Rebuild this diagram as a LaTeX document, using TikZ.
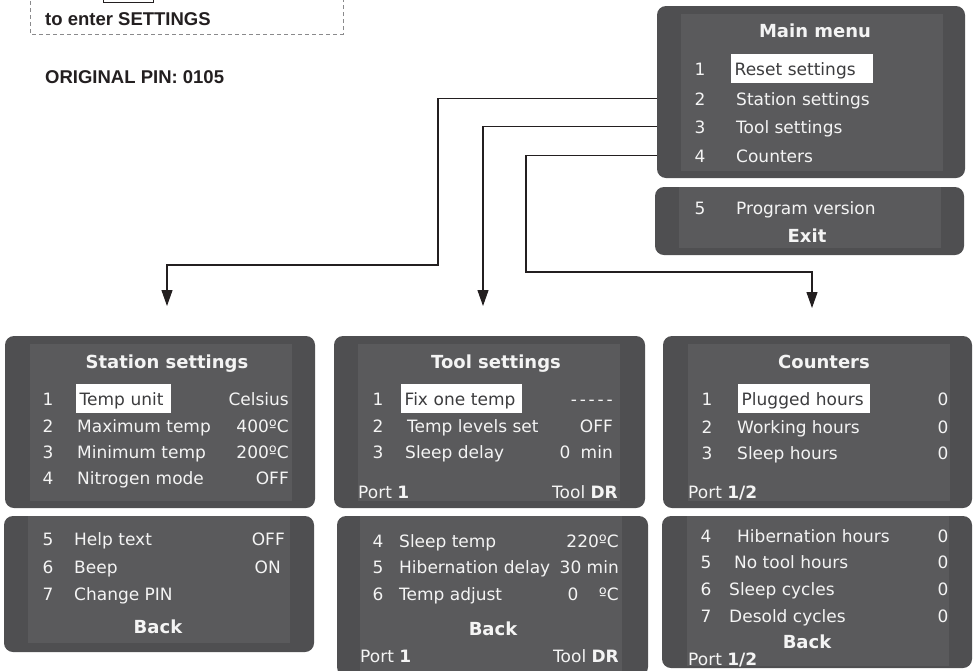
\documentclass[tikz,border=0pt]{standalone}
\usepackage{fontspec}
\setmainfont{Liberation Sans}
\newfontfamily\lcdfont{DejaVu Sans}
\usetikzlibrary{arrows.meta, positioning}
\definecolor{LcdFrame}{HTML}{4F4F51}
\definecolor{LcdPanel}{HTML}{5A5A5C}
\definecolor{LcdText}{HTML}{F4F4F4}
\definecolor{LcdInk}{HTML}{3C3C3E}
\definecolor{NoteInk}{HTML}{231F20}
\definecolor{NoteDash}{HTML}{8A8A8C}
\tikzset{
  framebox/.style={rectangle, rounded corners=9pt, fill=LcdFrame, inner sep=0pt},
  panelbox/.style={rectangle, fill=LcdPanel, inner sep=0pt},
  lcdtext/.style={font=\lcdfont\fontsize{17}{20}\selectfont, text=LcdText, inner sep=0pt, anchor=base west},
  lcdnum/.style={lcdtext, anchor=base},
  lcdval/.style={lcdtext, anchor=base east},
  lcdtitle/.style={lcdtext, anchor=base, font=\lcdfont\bfseries\fontsize{18}{21}\selectfont},
  hilite/.style={lcdtext, fill=white, text=LcdInk, inner xsep=3.5pt, text height=21pt, text depth=8pt, align=left},
  notetext/.style={font=\bfseries\fontsize{18.5}{22}\selectfont, text=NoteInk, anchor=base west, inner sep=0pt},
  link/.style={-{Triangle[length=16pt, width=11pt]}, line width=1.1pt, NoteInk}
}
\begin{document}
\begin{tikzpicture}[x=1pt, y=-1pt]
  \useasboundingbox (0,0) rectangle (973,670);

  % Hint box
  \draw[NoteDash, line width=0.8pt, dash pattern=on 4pt off 3pt] (30,-6) rectangle (343,34);
  \draw[NoteInk, line width=0.8pt] (103,-10) rectangle (153,2);
  \node[notetext] (hint) at (45,25) {to enter SETTINGS};
  \node[notetext] (pin) at (45,83) {ORIGINAL PIN: 0105};

  % Connectors
  \coordinate (st-in) at (167,306);
  \coordinate (tl-in) at (483,306);
  \coordinate (ct-in) at (812,308);
  \coordinate (st-bend) at (438,265);
  \coordinate (ct-bend) at (526,272);

  % Main menu
  \node[framebox, minimum width=308pt, minimum height=172pt] (mainA) at (811,92) {};
  \node[panelbox, minimum width=262pt, minimum height=157pt] (mainApanel) at (812,92.5) {};
  \node[lcdtitle] (mm-title) at (815,37) {Main menu};
  \node[hilite, text width=135pt] (mm-l1) at (731,75) {Reset settings};
  \foreach \i/\yy in {1/75, 2/105, 3/133, 4/162}
    \node[lcdnum] (mm-n\i) at (700,\yy) {\i};
  \foreach \i/\label/\yy in {2/Station settings/105, 3/Tool settings/133, 4/Counters/162}
    \node[lcdtext] (mm-l\i) at (736,\yy) {\label};

  \node[framebox, minimum width=309pt, minimum height=68pt] (mainB) at (809.5,221) {};
  \node[panelbox, minimum width=262pt, minimum height=61pt] (mainBpanel) at (810,217.5) {};
  \node[lcdnum] (mm-n5) at (700,214) {5};
  \node[lcdtext] (mm-l5) at (736,214) {Program version};
  \node[lcdtitle] (mm-exit) at (807,242) {Exit};

  \draw[link] (mainA.west |- mm-n2) -| (st-bend) -| (st-in);
  \draw[link] (mainA.west |- mm-n3) -| (tl-in);
  \draw[link] (mainA.west |- mm-n4) -| (ct-bend) -| (ct-in);

  % Station settings
  \node[framebox, minimum width=310pt, minimum height=172pt] (stA) at (160,422) {};
  \node[panelbox, minimum width=262pt, minimum height=157pt] (stApanel) at (161,422.5) {};
  \node[lcdtitle] (st-title) at (167,368) {Station settings};
  \node[hilite, text width=88pt] (st-l1) at (76,405) {Temp unit};
  \node[lcdval] (st-v1) at (289,405) {Celsius};
  \foreach \i/\label/\val/\yy in {2/Maximum temp/400ºC/432, 3/Minimum temp/200ºC/458, 4/Nitrogen mode/OFF/484} {
    \node[lcdtext] (st-l\i) at (77,\yy) {\label};
    \node[lcdval] (st-v\i) at (289,\yy) {\val};
  }
  \foreach \i/\yy in {1/405, 2/432, 3/458, 4/484}
    \node[lcdnum] (st-n\i) at (48,\yy) {\i};

  \node[framebox, minimum width=310pt, minimum height=136pt] (stB) at (159,584) {};
  \node[panelbox, minimum width=262pt, minimum height=127pt] (stBpanel) at (159,579.5) {};
  \foreach \i/\label/\val/\xx/\yy in {5/Help text/OFF/285/545, 6/Beep/ON/281/573, 7/Change PIN/{}/285/600} {
    \node[lcdnum] (st-n\i) at (48,\yy) {\i};
    \node[lcdtext] (st-l\i) at (74,\yy) {\label};
    \node[lcdval] (st-v\i) at (\xx,\yy) {\val};
  }
  \node[lcdtitle] (st-back) at (158,633) {Back};

  % Tool settings
  \node[framebox, minimum width=311pt, minimum height=172pt] (tlA) at (489.5,422) {};
  \node[panelbox, minimum width=262pt, minimum height=157pt] (tlApanel) at (489,422.5) {};
  \node[lcdtitle] (tl-title) at (496,368) {Tool settings};
  \node[hilite, text width=114pt] (tl-l1) at (401,405) {Fix one temp};
  \node[lcdval] (tl-v1) at (613,405) {-\,-\,-\,-\,-};
  \foreach \i/\label/\val/\xx/\yy in {2/Temp levels set/OFF/407/432, 3/Sleep delay/{0\hspace{0.6em}min}/405/458} {
    \node[lcdtext] (tl-l\i) at (\xx,\yy) {\label};
    \node[lcdval] (tl-v\i) at (613,\yy) {\val};
  }
  \foreach \i/\yy in {1/405, 2/432, 3/458}
    \node[lcdnum] (tl-n\i) at (378,\yy) {\i};
  \node[lcdtext] (tl-port) at (358,498) {Port \textbf{1}};
  \node[lcdval] (tl-tool) at (618,498) {Tool \textbf{DR}};

  \node[framebox, minimum width=311pt, minimum height=160pt] (tlB) at (492.5,596) {};
  \node[panelbox, minimum width=262pt, minimum height=160pt] (tlBpanel) at (491,596) {};
  \foreach \i/\label/\val/\yy in {4/Sleep temp/220ºC/547, 5/Hibernation delay/30 min/573, 6/Temp adjust/{0\hspace{1.2em}ºC}/600} {
    \node[lcdnum] (tl-n\i) at (378,\yy) {\i};
    \node[lcdtext] (tl-l\i) at (399,\yy) {\label};
    \node[lcdval] (tl-v\i) at (619,\yy) {\val};
  }
  \node[lcdtitle] (tl-back) at (493,635) {Back};
  \node[lcdtext] (tl-port2) at (360,662) {Port \textbf{1}};
  \node[lcdval] (tl-tool2) at (619,662) {Tool \textbf{DR}};

  % Counters
  \node[framebox, minimum width=309pt, minimum height=172pt] (ctA) at (817.5,422) {};
  \node[panelbox, minimum width=262pt, minimum height=157pt] (ctApanel) at (819,422.5) {};
  \node[lcdtitle] (ct-title) at (824,368) {Counters};
  \node[hilite, text width=125pt] (ct-l1) at (738,405) {Plugged hours};
  \foreach \i/\label/\yy in {2/Working hours/433, 3/Sleep hours/459}
    \node[lcdtext] (ct-l\i) at (737,\yy) {\label};
  \foreach \i/\yy in {1/405, 2/433, 3/459} {
    \node[lcdnum] (ct-n\i) at (707,\yy) {\i};
    \node[lcdnum] (ct-v\i) at (943,\yy) {0};
  }
  \node[lcdtext] (ct-port) at (688,498) {Port \textbf{1/2}};

  \node[framebox, minimum width=310pt, minimum height=152pt] (ctB) at (817,592) {};
  \node[panelbox, minimum width=262pt, minimum height=150pt] (ctBpanel) at (818,591) {};
  \foreach \i/\label/\xx/\yy in {4/Hibernation hours/737/542, 5/No tool hours/734/568, 6/Sleep cycles/729/595, 7/Desold cycles/729/622} {
    \node[lcdnum] (ct-n\i) at (706,\yy) {\i};
    \node[lcdtext] (ct-l\i) at (\xx,\yy) {\label};
    \node[lcdnum] (ct-v\i) at (943,\yy) {0};
  }
  \node[lcdtitle] (ct-back) at (807,648) {Back};
  \node[lcdtext] (ct-port2) at (688,665) {Port \textbf{1/2}};
\end{tikzpicture}
\end{document}
